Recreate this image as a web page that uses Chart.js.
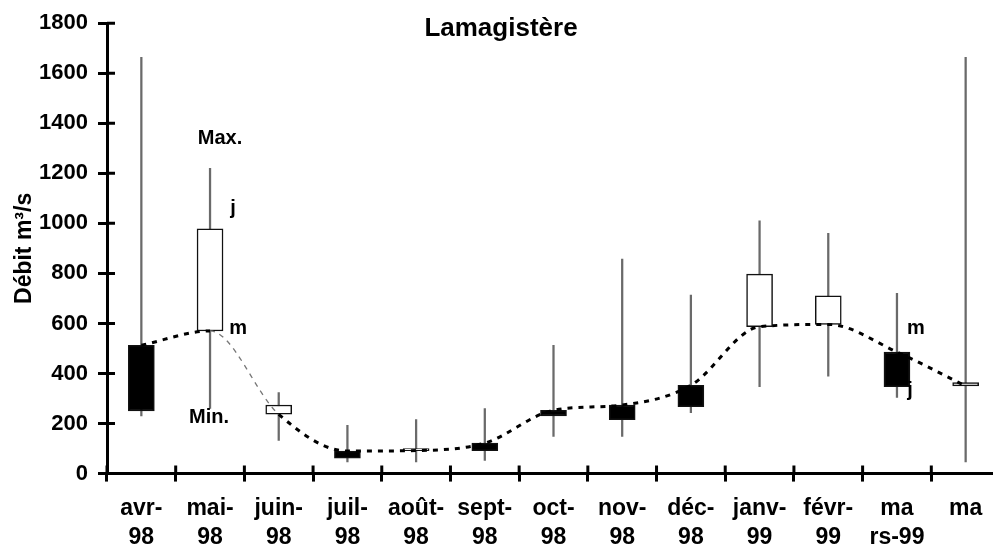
<!DOCTYPE html>
<html>
<head>
<meta charset="utf-8">
<script src="https://cdn.jsdelivr.net/npm/chart.js@4.4.0/dist/chart.umd.min.js"></script>
<style>
html, body { margin: 0; padding: 0; background: #fff; overflow: hidden; }
#wrap { width: 1004px; height: 564px; position: relative; }
</style>
</head>
<body>
<div id="wrap"><canvas id="debitChart"></canvas></div>
<script>
var chartTitle = 'Lamagistère';
var months = [['avr-', '98'], ['mai-', '98'], ['juin-', '98'], ['juil-', '98'], ['août-', '98'], ['sept-', '98'],
	['oct-', '98'], ['nov-', '98'], ['déc-', '98'], ['janv-', '99'], ['févr-', '99'], ['ma', 'rs-99'], ['ma']];
var highFlow = [1664, 1220, 324, 193, 216, 260, 513, 857, 713, 1010, 960, 720, 1664];
var lowFlow  = [230, 260, 133, 47, 47, 53, 149, 149, 243, 347, 389, 304, 47];
var meanFlow = [513, 570, 237, 90, 92, 122, 253, 274, 353, 587, 596, 486, 350];
var dayFlow  = [250, 978, 274, 62, 100, 92, 230, 215, 267, 797, 710, 347, 364];
var yTicks = [0, 200, 400, 600, 800, 1000, 1200, 1400, 1600, 1800];

// little text marks placed next to the mai-98 and mars-99 candles
var notes = [
	{ text: 'Max.', index: 1, dx: 10, value: 1340 },
	{ text: 'j', index: 1, dx: 23, value: 1060 },
	{ text: 'm', index: 1, dx: 28, value: 580 },
	{ text: 'Min.', index: 1, dx: -1, value: 225 },
	{ text: 'm', index: 11, dx: 19, value: 580 },
	{ text: 'j', index: 11, dx: 13, value: 333 }
];

var fontFamily = '"Liberation Sans", Arial, sans-serif';

var frame = {
	id: 'frame',
	afterDraw: function(chart) {
		var c = chart.ctx, xs = chart.scales.x, ys = chart.scales.y, area = chart.chartArea;
		c.save();
		c.strokeStyle = '#000';
		c.lineWidth = 3;
		c.beginPath();
		yTicks.forEach(function(v) {
			var py = ys.getPixelForValue(v);
			c.moveTo(area.left, py);
			c.lineTo(area.left + 8, py);
		});
		var half = (xs.getPixelForValue(1) - xs.getPixelForValue(0)) / 2;
		for (var i = 0; i <= months.length; i++) {
			var px = xs.getPixelForValue(i) - half;
			c.moveTo(px, area.bottom);
			c.lineTo(px, area.bottom - 8);
		}
		c.stroke();

		c.fillStyle = '#000';
		c.textAlign = 'center';
		c.textBaseline = 'middle';
		c.font = 'bold 26px ' + fontFamily;
		c.fillText(chartTitle, 501, 29);
		c.font = 'bold 20px ' + fontFamily;
		notes.forEach(function(n) {
			c.fillText(n.text, xs.getPixelForValue(n.index) + n.dx, ys.getPixelForValue(n.value));
		});
		c.restore();
	}
};

var ctx = document.getElementById('debitChart');
var debitChart = new Chart(ctx, {
	type: 'bar',
	data: {
		labels: months,
		datasets: [{
			type: 'line',
			data: meanFlow,
			borderColor: '#000',
			borderWidth: 3,
			borderDash: [5, 6],
			cubicInterpolationMode: 'monotone',
			pointRadius: 0,
			order: 0,
			segment: {
				borderColor: function(s) { return s.p0DataIndex === 1 ? '#777' : undefined; },
				borderWidth: function(s) { return s.p0DataIndex === 1 ? 1.3 : undefined; },
				borderDash: function(s) { return s.p0DataIndex === 1 ? [5, 5] : undefined; }
			}
		}, {
			data: meanFlow.map(function(m, i) { return [Math.min(m, dayFlow[i]), Math.max(m, dayFlow[i])]; }),
			backgroundColor: meanFlow.map(function(m, i) { return dayFlow[i] > m ? '#fff' : '#000'; }),
			borderColor: '#111',
			borderWidth: 1.5,
			borderSkipped: false,
			barThickness: 26,
			grouped: false,
			order: 1
		}, {
			data: lowFlow.map(function(l, i) { return [l, highFlow[i]]; }),
			backgroundColor: '#6a6a6a',
			barThickness: 1.6,
			grouped: false,
			order: 2
		}]
	},
	options: {
		responsive: true,
		maintainAspectRatio: false,
		animation: false,
		layout: { padding: { left: 0, top: 23, right: 4, bottom: 0 } },
		plugins: {
			legend: { display: false },
			tooltip: { enabled: false },
			title: { display: false }
		},
		scales: {
			x: {
				offset: true,
				grid: { offset: true, drawOnChartArea: false, drawTicks: true, tickLength: 8, tickWidth: 3, color: '#000' },
				border: { display: true, width: 3, color: '#000' },
				ticks: {
					color: '#000',
					padding: 12,
					maxRotation: 0,
					autoSkip: false,
					font: { family: fontFamily, size: 23, weight: 'bold', lineHeight: 1.27 }
				}
			},
			y: {
				min: yTicks[0],
				max: yTicks[yTicks.length - 1],
				afterFit: function(scale) { scale.width = 107; },
				grid: { drawOnChartArea: false, drawTicks: true, tickLength: 9, tickWidth: 3, color: '#000' },
				border: { display: true, width: 3, color: '#000' },
				ticks: {
					stepSize: 200,
					color: '#000',
					padding: 10,
					callback: function(v) { return String(v); },
					font: { family: fontFamily, size: 22, weight: 'bold' }
				},
				title: {
					display: true,
					text: 'Débit m³/s',
					color: '#000',
					padding: { top: 11, bottom: 0 },
					font: { family: fontFamily, size: 23, weight: 'bold' }
				}
			}
		}
	},
	plugins: [frame]
});
</script>
</body>
</html>
